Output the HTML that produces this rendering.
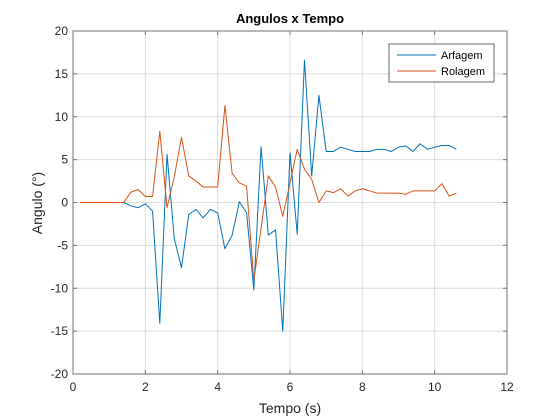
<!DOCTYPE html>
<html><head><meta charset="utf-8"><style>
body{margin:0;background:#fff;}
svg{display:block;font-family:"Liberation Sans",Arial,sans-serif;}
</style></head><body>
<svg id="chart" width="560" height="420" viewBox="0 0 560 420" xmlns="http://www.w3.org/2000/svg">
<rect x="0" y="0" width="560" height="420" fill="#fff"/>
<g id="grid"></g>
<g id="series"></g>
<rect x="73" y="31" width="434" height="343" fill="none" stroke="#262626" stroke-opacity="0.6" stroke-width="1"/>
<g id="ticks"></g>
<text x="290" y="23" text-anchor="middle" font-size="13" font-weight="bold" fill="#000">Angulos x Tempo</text>
<text x="290" y="413" text-anchor="middle" font-size="14" fill="#262626">Tempo (s)</text>
<text transform="translate(42,203) rotate(-90)" text-anchor="middle" font-size="14" fill="#262626">Angulo (°)</text>
<g>
<rect x="389" y="44" width="105" height="38" fill="#fff" stroke="#262626" stroke-opacity="0.7"/>
<line x1="397" y1="55" x2="436" y2="55" stroke="#0072BD" stroke-width="1"/>
<text x="441" y="59" font-size="11" fill="#000">Arfagem</text>
<line x1="397" y1="71" x2="436" y2="71" stroke="#D95319" stroke-width="1"/>
<text x="441" y="75" font-size="11" fill="#000">Rolagem</text>
</g>
</svg>
<script>
const xTicks=[0,2,4,6,8,10,12];
const yTicks=[-20,-15,-10,-5,0,5,10,15,20];
const times=[];
for(let i=1;i<=53;i++)times.push(Math.round(i*2)/10);
const arfagem=[0,0,0,0,0,0,0,-0.4,-0.6,-0.15,-1.0,-14.1,5.6,-4.2,-7.6,-1.4,-0.8,-1.8,-0.8,-1.2,-5.4,-3.8,0.1,-1.2,-10.2,6.5,-3.8,-3.2,-15,5.8,-3.7,16.6,3.1,12.5,5.95,5.95,6.45,6.2,5.95,5.95,5.95,6.2,6.2,5.95,6.45,6.6,5.95,6.85,6.2,6.45,6.65,6.65,6.2];
const rolagem=[0,0,0,0,0,0,0,1.2,1.5,0.7,0.7,8.3,-0.6,3.0,7.6,3.1,2.5,1.8,1.8,1.8,11.3,3.4,2.3,1.9,-9.1,-3.0,3.1,1.8,-1.6,2.3,6.2,3.9,2.7,0,1.35,1.15,1.6,0.75,1.35,1.6,1.35,1.1,1.1,1.1,1.1,0.95,1.35,1.35,1.35,1.35,2.2,0.75,1.1];
const L=73,R=507,T=31,B=374;
const sx=v=>L+(v-0)/(12-0)*(R-L);
const sy=v=>B-(v+20)/40*(B-T);
const NS="http://www.w3.org/2000/svg";
const grid=document.getElementById('grid'),ticks=document.getElementById('ticks'),ser=document.getElementById('series');
function mk(tag,attrs,parent){const e=document.createElementNS(NS,tag);for(const k in attrs)e.setAttribute(k,attrs[k]);parent.appendChild(e);return e;}
xTicks.forEach(v=>{
 const x=sx(v);
 const g=mk('line',{x1:x,y1:T,x2:x,y2:B,stroke:'#dcdcdc','stroke-width':1},grid);
 
 
 mk('line',{x1:x,y1:B,x2:x,y2:B-4,stroke:'#777'},ticks);
 mk('line',{x1:x,y1:T,x2:x,y2:T+4,stroke:'#777'},ticks);
 const t=mk('text',{x:x,y:B+17,'text-anchor':'middle','font-size':12,fill:'#262626'},ticks);
 t.textContent=v;
 
 
});
yTicks.forEach(v=>{
 const y=sy(v);
 const g=mk('line',{x1:L,y1:y,x2:R,y2:y,stroke:'#dcdcdc','stroke-width':1},grid);
 
 
 mk('line',{x1:L,y1:y,x2:L+4,y2:y,stroke:'#777'},ticks);
 mk('line',{x1:R,y1:y,x2:R-4,y2:y,stroke:'#777'},ticks);
 const t=mk('text',{x:L-5,y:y+4,'text-anchor':'end','font-size':12,fill:'#262626'},ticks);
 t.textContent=v;
 
 
});
function line(vals,color,name){
 const pts=vals.map((v,i)=>sx(times[i]).toFixed(2)+','+sy(v).toFixed(2)).join(' ');
 const p=mk('polyline',{points:pts,fill:'none',stroke:color,'stroke-width':1,'stroke-linejoin':'round'},ser);
 
 
}
line(arfagem,'#0072BD','arfagem-line');
line(rolagem,'#D95319','rolagem-line');
</script>
</body></html>
